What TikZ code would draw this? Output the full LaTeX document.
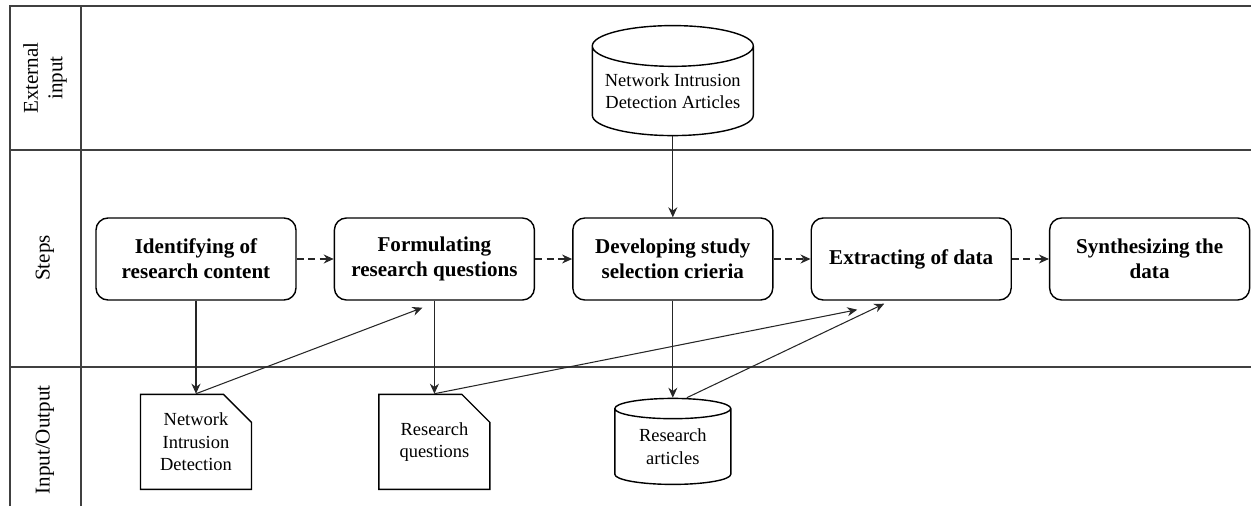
\documentclass[tikz,border=0pt]{standalone}
\usepackage{fontspec}
\setmainfont{Liberation Serif}
\usetikzlibrary{arrows.meta, positioning, shapes.geometric, shapes.misc}

\begin{document}
\begin{tikzpicture}[
    every node/.style={inner sep=0pt},
    lane/.style={line width=1.1pt, draw=black!75},
    lanelabel/.style={rotate=90, align=center, font=\fontsize{12}{14}\selectfont},
    stepbox/.style={draw, line width=0.8pt, rounded corners=2.4mm, minimum width=4cm,
        minimum height=1.64cm, align=center, font=\fontsize{12}{14.2}\selectfont\bfseries},
    doc/.style={draw, line width=0.8pt, chamfered rectangle, chamfered rectangle corners=north east,
        chamfered rectangle xsep=2.8mm, chamfered rectangle ysep=2.8mm, minimum width=2.22cm,
        minimum height=1.9cm, align=center, font=\fontsize{10.5}{12.8}\selectfont},
    db/.style={draw, line width=0.8pt, cylinder, shape border rotate=90, aspect=0.3,
        align=center, font=\fontsize{10.5}{12.8}\selectfont},
    flow/.style={-{Stealth[length=2mm, width=1.8mm]}, line width=0.6pt, draw=black!85},
    next/.style={flow, dash pattern=on 4pt off 2.5pt}]

\useasboundingbox (0,0) rectangle (25.02,10.12);

% Swimlanes
\draw[lane] (0.2,0) -- (0.2,10) -- (25.02,10);
\draw[lane] (1.62,0) -- (1.62,10);
\draw[lane] (0.2,7.12) -- (25.02,7.12);
\draw[lane] (0.2,2.78) -- (25.02,2.78);
\node[lanelabel] (lane-ext) at (0.9,8.56) {External\\input};
\node[lanelabel] (lane-steps) at (0.9,4.96) {Steps};
\node[lanelabel] (lane-io) at (0.9,1.32) {Input/Output};

% Steps row
\node[stepbox] (identify) at (3.92,4.94) {Identifying of\\research content};
\node[stepbox, right=0.74cm of identify] (formulate) {Formulating\\research questions};
\node[stepbox, right=0.74cm of formulate] (criteria) {Developing study\\selection crieria};
\node[stepbox, right=0.74cm of criteria] (extract) {Extracting of data};
\node[stepbox, right=0.74cm of extract] (synth) {Synthesizing the\\data};

% External input
\node[db, minimum width=3.22cm, minimum height=2.2cm, above=1.62cm of criteria] (nid-articles)
    {Network Intrusion\\Detection Articles};

% Input/Output row
\node[doc, below=1.86cm of identify] (nid-doc) {Network\\Intrusion\\Detection};
\node[doc, below=1.86cm of formulate] (rq-doc) {Research\\questions};
\node[db, minimum width=2.32cm, minimum height=1.72cm, below=1.94cm of criteria] (articles)
    {Research\\articles};

% Dashed flow between steps
\draw[next] (identify) -- (formulate);
\draw[next] (formulate) -- (criteria);
\draw[next] (criteria) -- (extract);
\draw[next] (extract) -- (synth);

% Inputs and outputs
\draw[flow] (nid-articles.south) -- (criteria.north);
\draw[flow] (identify.south) -- (nid-doc.north);
\draw[flow] (nid-doc.north) -- ([xshift=-2.4mm, yshift=-1.4mm]formulate.south);
\draw[flow] (formulate.south) -- (rq-doc.north);
\draw[flow] (rq-doc.north) -- ([xshift=-10.8mm, yshift=-1.8mm]extract.south);
\draw[flow] (criteria.south) -- (articles.north);
\draw[flow] ([xshift=2.8mm]articles.north) -- ([xshift=-5.4mm, yshift=-0.6mm]extract.south);
\end{tikzpicture}
\end{document}
